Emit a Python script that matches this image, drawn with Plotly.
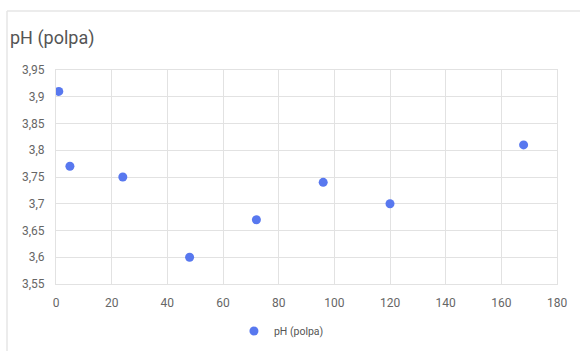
import plotly.graph_objects as go

# Hours of storage and pulp pH measured at each time
horas = [1, 5, 24, 48, 72, 96, 120, 168]
ph_polpa = [3.91, 3.77, 3.75, 3.60, 3.67, 3.74, 3.70, 3.81]

W, H = 580, 351
L, R, T, B = 56, 23, 70, 67
pw, ph = W - L - R, H - T - B


def px_x(x):
    return (x - L) / pw


def px_y(y):
    return (H - B - y) / ph


fig = go.Figure()
fig.add_trace(go.Scatter(
    x=horas, y=ph_polpa, mode="markers", name="pH (polpa)",
    marker=dict(size=9, color="#5878ef"),
))

grid = "#e2e2e2"
tick_font = dict(family="Roboto, Arial, sans-serif", size=12, color="#666666")

fig.update_layout(
    width=W, height=H,
    margin=dict(l=L, r=R, t=T, b=B, autoexpand=False),
    paper_bgcolor="white", plot_bgcolor="white",
    separators=",.",
    title=dict(text="pH (polpa)", x=10 / W, xanchor="left", xref="container",
               y=1 - 38 / H, yanchor="middle", yref="container",
               font=dict(family="Roboto, Arial, sans-serif", size=18, color="#555555")),
    xaxis=dict(range=[0, 180], dtick=20, showgrid=True, gridcolor=grid, gridwidth=1,
               zeroline=False, showline=True, linecolor=grid, mirror=True,
               tickfont=tick_font, ticks="", ticklabelstandoff=8, automargin=False),
    yaxis=dict(range=[3.55, 3.95], dtick=0.05, showgrid=True, gridcolor=grid, gridwidth=1,
               zeroline=False, showline=True, linecolor=grid, mirror=True,
               tickfont=tick_font, ticks="", ticklabelstandoff=8, automargin=False),
    showlegend=True,
    legend=dict(orientation="h", x=0.45, xanchor="center", y=px_y(331), yanchor="middle",
                font=dict(family="Roboto, Arial, sans-serif", size=10.5, color="#555555"),
                itemwidth=30),
    shapes=[
        dict(type="line", xref="paper", yref="paper", x0=px_x(7), x1=px_x(W + 5),
             y0=px_y(11), y1=px_y(11), line=dict(color="#e6e6e6", width=1.5)),
        dict(type="line", xref="paper", yref="paper", x0=px_x(7), x1=px_x(7),
             y0=px_y(11), y1=px_y(H + 5), line=dict(color="#e6e6e6", width=1.5)),
    ],
)

fig.write_html("out.html")
